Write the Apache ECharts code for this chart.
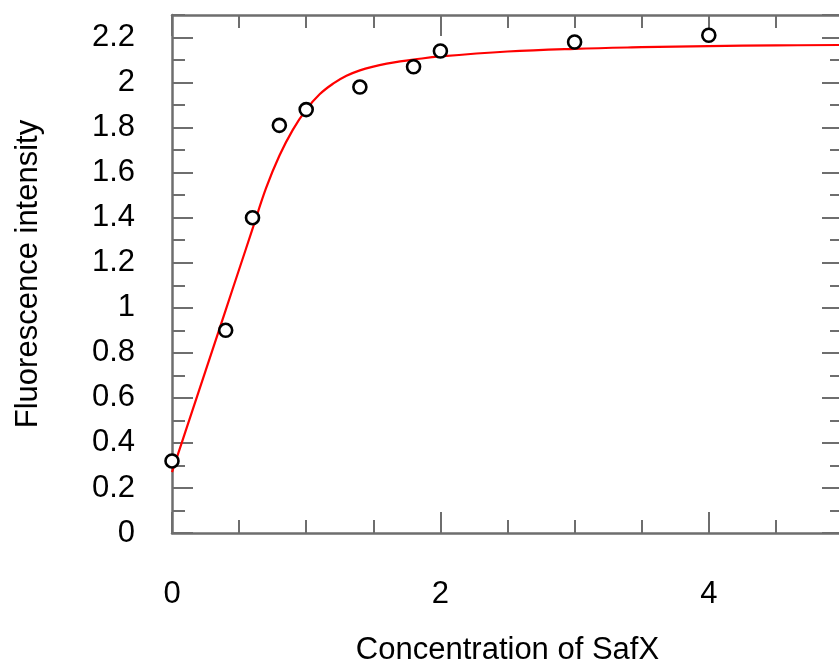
<!DOCTYPE html>
<html lang="en">
<head>
    <meta charset="UTF-8">
    <title>SafX fluorescence</title>
    <style>
        html, body { margin: 0; padding: 0; background: #fff; }
        #main { width: 839px; height: 663px; }
    </style>
</head>
<body>
    <div id="main"></div>
</body>
<script src="https://cdn.jsdelivr.net/npm/echarts@6/dist/echarts.min.js"></script>
<script>
    // measured points
    var concX = [0, 0.4, 0.6, 0.8, 1.0, 1.4, 1.8, 2.0, 3.0, 4.0]
    var fluorY = [0.32, 0.90, 1.40, 1.81, 1.88, 1.98, 2.07, 2.14, 2.18, 2.21]

    // fitted curve
    var fitX = [0, 0.1, 0.2, 0.3, 0.4, 0.5, 0.6, 0.7, 0.8, 0.9, 1.0, 1.1, 1.2, 1.3, 1.4, 1.5, 1.6, 1.7, 1.8, 2.0, 2.5, 3.0, 3.5, 4.0, 4.5, 5.0]
    var fitY = [0.27, 0.45, 0.63, 0.81, 0.99, 1.17, 1.35, 1.53, 1.675, 1.79, 1.88, 1.948, 1.995, 2.03, 2.054, 2.071, 2.084, 2.094, 2.102, 2.116, 2.138, 2.15, 2.157, 2.162, 2.165, 2.167]

    var xTickLabels = ['0', '2', '4']

    var axisGray = '#6e6e6e'
    var font = 'Liberation Sans, Arial, sans-serif'
    var fs = 31

    function pairs(xs, ys) {
        var out = []
        for (var i = 0; i < xs.length; i++) out.push([xs[i], ys[i]])
        return out
    }

    function xAx(pos, interval, len, withLabels) {
        return {
            type: 'value', position: pos, min: 0, max: 5, interval: interval,
            splitLine: { show: false },
            axisLine: { show: withLabels !== null, onZero: false, lineStyle: { color: axisGray, width: 2.5 } },
            axisTick: { show: true, inside: true, length: len, lineStyle: { color: axisGray, width: 2 } },
            axisLabel: {
                show: !!withLabels, margin: 46, color: '#000', fontSize: fs, fontFamily: font,
                showMaxLabel: false,
                formatter: function (v) { return xTickLabels.indexOf(String(v)) >= 0 ? String(v) : '' }
            }
        }
    }

    function yAx(pos, interval, len, withLabels) {
        return {
            type: 'value', position: pos, min: 0, max: 2.3, interval: interval,
            splitLine: { show: false },
            axisLine: { show: withLabels !== null, onZero: false, lineStyle: { color: axisGray, width: 2.5 } },
            axisTick: { show: true, inside: true, length: len, lineStyle: { color: axisGray, width: 2 } },
            axisLabel: {
                show: !!withLabels, margin: 37, color: '#000', fontSize: fs, fontFamily: font,
                showMaxLabel: false, padding: [4, 0, 0, 0],
                formatter: function (v) { return String(Math.round(v * 10) / 10) }
            }
        }
    }

    var bottomMain = xAx('bottom', 2, 21, true)
    bottomMain.name = 'Concentration of SafX'
    bottomMain.nameLocation = 'middle'
    bottomMain.nameGap = 102
    bottomMain.nameTextStyle = { color: '#000', fontSize: fs, fontFamily: font }

    var leftMain = yAx('left', 0.2, 21, true)
    leftMain.name = 'Fluorescence intensity'
    leftMain.nameLocation = 'middle'
    leftMain.nameGap = 128
    leftMain.nameTextStyle = { color: '#000', fontSize: fs, fontFamily: font }

    var myChart = echarts.init(document.getElementById('main'))
    var option = {
        animation: false,
        backgroundColor: '#fff',
        grid: { left: 172, right: -4, top: 15, bottom: 130, outerBoundsMode: 'none' },
        xAxis: [
            bottomMain,
            xAx('bottom', 0.5, 13, null),
            xAx('top', 2, 21, false),
            xAx('top', 0.5, 13, null)
        ],
        yAxis: [
            leftMain,
            yAx('left', 0.1, 13, null),
            yAx('right', 0.2, 21, false),
            yAx('right', 0.1, 13, null)
        ],
        series: [{
            type: 'line',
            data: pairs(fitX, fitY),
            smooth: 0.4,
            showSymbol: false,
            lineStyle: { color: '#ff0000', width: 2.2 },
            z: 2
        }, {
            type: 'scatter',
            data: pairs(concX, fluorY),
            symbol: 'circle',
            symbolSize: 13,
            itemStyle: { color: '#fff', borderColor: '#000', borderWidth: 2.6, opacity: 1 },
            z: 3
        }]
    }
    myChart.setOption(option)
</script>
</html>
